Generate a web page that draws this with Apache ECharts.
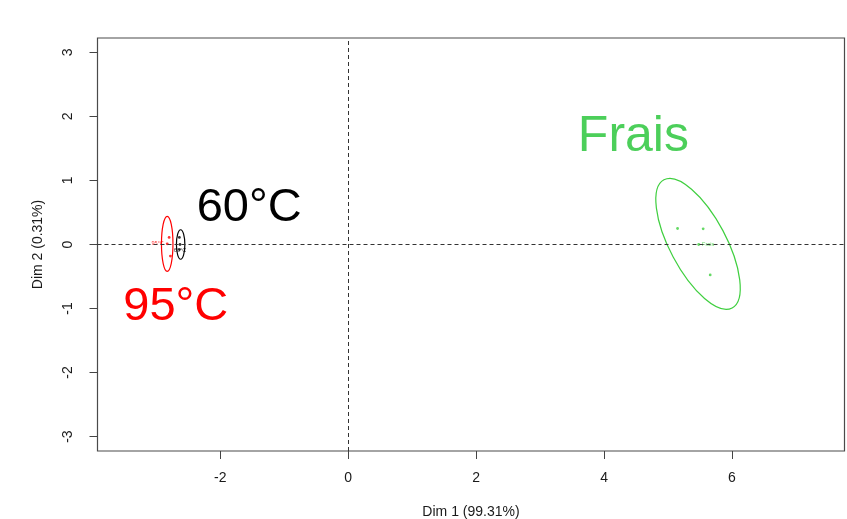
<!DOCTYPE html>
<html><head><meta charset="utf-8">
<script src="https://cdn.jsdelivr.net/npm/echarts@6/dist/echarts.min.js"></script>
<style>html,body{margin:0;padding:0;background:#fff}#c{width:847px;height:519px}</style>
</head><body><div id="c"></div>
<script>
// ---- data ----
const xTicks = [-2, 0, 2, 4, 6];
const yTicks = [-3, -2, -1, 0, 1, 2, 3];
const groups = ['60°C', '95°C', 'Frais'];
const groupColors = ['#000000', '#ff0000', '#3fcf3f'];
const points60 = [[-2.64, 0.11], [-2.64, -0.08]];
const points95 = [[-2.80, 0.11], [-2.78, -0.18]];
const pointsFrais = [[5.15, 0.25], [5.55, 0.245], [5.66, -0.475]];
const means60 = [[-2.63, 0.0]];
const means95 = [[-2.83, 0.01]];
const meansFrais = [[5.48, 0.0]];
// confidence ellipses: [centerX, centerY, semiAxis1, semiAxis2, angleDeg]
const ellipse60 = [[-2.62, 0.0, 0.066, 0.23, 0]];
const ellipse95 = [[-2.83, 0.01, 0.09, 0.43, 0]];
const ellipseFrais = [[5.47, 0.01, 1.135, 0.44, -62]];
const xTitle = 'Dim 1 (99.31%)';
const yTitle = 'Dim 2 (0.31%)';

const FONT = 'Liberation Sans, Arial, sans-serif';
const chart = echarts.init(document.getElementById('c'), null, {renderer: 'canvas'});

function ellipseSeries(data, color) {
  return {
    type: 'custom', data: data, silent: true, encode: {x: 0, y: 1},
    renderItem: function (params, api) {
      const c = api.coord([api.value(0), api.value(1)]);
      const rx = api.size([api.value(2), 0])[0];
      const ry = api.size([0, api.value(3)])[1];
      return {
        type: 'ellipse', x: c[0], y: c[1],
        rotation: api.value(4) * Math.PI / 180,
        shape: {cx: 0, cy: 0, rx: rx, ry: ry},
        style: {fill: null, stroke: color, lineWidth: 1.2}
      };
    }
  };
}
function pointSeries(data, color) {
  return {type: 'scatter', data: data, symbol: 'circle', symbolSize: 2.8, silent: true,
    itemStyle: {color: color}};
}
function meanSeries(data, color, name, pos) {
  return {type: 'scatter', data: data, symbol: 'circle', symbolSize: 2.8, silent: true,
    itemStyle: {color: color},
    label: {show: true, formatter: name, fontSize: 5.5, color: color, position: pos, distance: 2, fontFamily: FONT}};
}

chart.setOption({
  animation: false,
  backgroundColor: '#fff',
  grid: {left: 97.5, top: 38, right: 2.5, bottom: 68, show: true, borderColor: '#4a4a4a', borderWidth: 1.2,
    backgroundColor: 'transparent', containLabel: false, outerBoundsMode: 'none'},
  xAxis: {
    type: 'value', min: -3.92, max: 7.76,
    splitLine: {show: false},
    axisLine: {show: false, onZero: false},
    axisTick: {show: true, length: 8, customValues: xTicks, lineStyle: {color: '#444'}},
    axisLabel: {customValues: xTicks, margin: 20, fontSize: 14, color: '#1a1a1a', fontFamily: FONT},
    name: xTitle, nameLocation: 'middle', nameGap: 54,
    nameTextStyle: {fontSize: 14, color: '#1a1a1a', fontFamily: FONT}
  },
  yAxis: {
    type: 'value', min: -3.225, max: 3.225,
    splitLine: {show: false},
    axisLine: {show: false, onZero: false},
    axisTick: {show: true, length: 8, customValues: yTicks, lineStyle: {color: '#444'}},
    axisLabel: {customValues: yTicks, rotate: 90, margin: 22, fontSize: 14, color: '#1a1a1a', fontFamily: FONT},
    name: yTitle, nameLocation: 'middle', nameGap: 52, nameRotate: 90,
    nameTextStyle: {fontSize: 14, color: '#1a1a1a', fontFamily: FONT}
  },
  series: [
    {type: 'line', data: [], silent: true,
      markLine: {silent: true, symbol: 'none', label: {show: false},
        lineStyle: {color: '#333', type: [4, 3], width: 1},
        data: [{xAxis: 0}, {yAxis: 0}]}},
    ellipseSeries(ellipse60, groupColors[0]),
    ellipseSeries(ellipse95, groupColors[1]),
    ellipseSeries(ellipseFrais, groupColors[2]),
    pointSeries(points60, groupColors[0]),
    pointSeries(points95, groupColors[1]),
    pointSeries(pointsFrais, groupColors[2]),
    meanSeries(means60, groupColors[0], groups[0], 'bottom'),
    meanSeries(means95, groupColors[1], groups[1], 'left'),
    meanSeries(meansFrais, groupColors[2], groups[2], 'right')
  ],
  graphic: [
    {type: 'text', x: 633.4, y: 137, style: {text: groups[2], fontSize: 50, fill: '#4ccf5a', fontFamily: FONT, align: 'center', verticalAlign: 'middle'}},
    {type: 'text', x: 249.2, y: 208, style: {text: groups[0], fontSize: 47, fill: '#000000', fontFamily: FONT, align: 'center', verticalAlign: 'middle'}},
    {type: 'text', x: 175.8, y: 307, style: {text: groups[1], fontSize: 47, fill: '#ff0000', fontFamily: FONT, align: 'center', verticalAlign: 'middle'}}
  ]
});
</script></body></html>
